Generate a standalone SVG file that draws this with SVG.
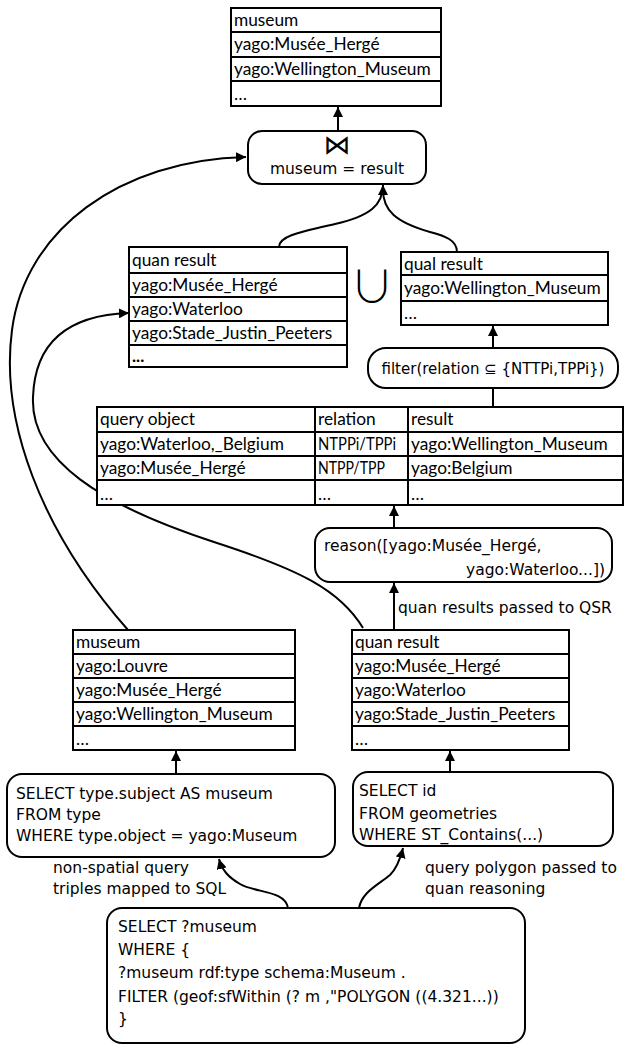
<svg xmlns="http://www.w3.org/2000/svg" width="624" height="1046" viewBox="0 0 624 1046">
  <style>
    .tbl { fill: #fff; stroke: #000; stroke-width: 2; }
    .grid { stroke: #000; stroke-width: 2; fill: none; }
    .box { fill: #fff; stroke: #000; stroke-width: 2; }
    .cell { font-family: Lato, "Liberation Sans", sans-serif; font-size: 17.3px; fill: #000; }
    .code { font-family: "DejaVu Sans", Verdana, sans-serif; font-size: 15.5px; fill: #000; }
    .edge { fill: none; stroke: #000; stroke-width: 2; }
  </style>
  <defs>
    <marker id="arrow" viewBox="0 0 10 10" refX="10" refY="5" markerWidth="5" markerHeight="5" orient="auto" markerUnits="strokeWidth">
      <path d="M0,0 L10,5 L0,10 z" fill="#000"/>
    </marker>
  </defs>
  <rect width="624" height="1046" fill="#fff"/>

  <!-- connectors -->
  <g id="connectors">
    <path class="edge" d="M338,131 L338,107" marker-end="url(#arrow)"/>
    <path class="edge" d="M279,247 C279,236 300,232 335,224 C370,216 383,205 383,185" marker-end="url(#arrow)"/>
    <path class="edge" d="M457,252 C457,240 445,236 430,232 C395,222 383,210 383,190"/>
    <path class="edge" d="M493,348 L493,326" marker-end="url(#arrow)"/>
    <path class="edge" d="M493,388 L493,407"/>
    <path class="edge" d="M394,528 L394,506" marker-end="url(#arrow)"/>
    <path class="edge" d="M394,630 L394,583" marker-end="url(#arrow)"/>
    <path class="edge" d="M128,630 C40,530 0,420 12,330 C25,230 120,160 246,157" marker-end="url(#arrow)"/>
    <path class="edge" d="M363,628 C340,590 300,570 217,543 C100,505 30,460 33,397 C35,340 70,315 129,313" marker-end="url(#arrow)"/>
    <path class="edge" d="M176,774 L176,751" marker-end="url(#arrow)"/>
    <path class="edge" d="M450,772 L450,751" marker-end="url(#arrow)"/>
    <path class="edge" d="M288,908 C285,890 255,893 240,884 C228,877 222,870 219,859" marker-end="url(#arrow)"/>
    <path class="edge" d="M359,908 C362,892 378,885 390,875 C397,868 400,860 403,848" marker-end="url(#arrow)"/>
  </g>

  <!-- final joined result -->
  <g id="result-table">
    <rect class="tbl" x="231" y="8" width="210" height="98"/>
    <path class="grid" d="M231,32 H441 M231,57 H441 M231,81 H441"/>
    <text class="cell" x="234" y="26">museum</text>
    <text class="cell" x="234" y="50">yago:Musée_Hergé</text>
    <text class="cell" x="234" y="75">yago:Wellington_Museum</text>
    <text class="cell" x="234" y="100">…</text>
  </g>

  <g id="join">
    <rect class="box" x="248" y="131" width="178" height="53" rx="14"/>
    <text class="code" x="337" y="154" text-anchor="middle" style="font-size:27px">⋈</text>
    <text class="code" x="337" y="174" text-anchor="middle">museum = result</text>
  </g>

  <g id="quan-result-upper">
    <rect class="tbl" x="129" y="247" width="218" height="120"/>
    <path class="grid" d="M129,273 H347 M129,297 H347 M129,321 H347 M129,345 H347"/>
    <text class="cell" x="132" y="266">quan result</text>
    <text class="cell" x="132" y="291">yago:Musée_Hergé</text>
    <text class="cell" x="132" y="315">yago:Waterloo</text>
    <text class="cell" x="132" y="339">yago:Stade_Justin_Peeters</text>
    <text class="cell" x="132" y="362" style="font-weight:bold">...</text>
  </g>

  <g id="union">
    <text x="372" y="303" text-anchor="middle" style="font-family:'Noto Sans CJK JP','DejaVu Sans',sans-serif;font-size:44px;font-weight:300">∪</text>
  </g>

  <g id="qual-result">
    <rect class="tbl" x="401" y="252" width="207" height="73"/>
    <path class="grid" d="M401,275 H608 M401,301 H608"/>
    <text class="cell" x="404" y="270">qual result</text>
    <text class="cell" x="404" y="294">yago:Wellington_Museum</text>
    <text class="cell" x="404" y="319">…</text>
  </g>

  <g id="filter">
    <rect class="box" x="368" y="348" width="250" height="40" rx="18"/>
    <text class="code" x="493" y="374" text-anchor="middle" style="font-size:15px">filter(relation ⊆ {NTTPi,TPPi})</text>
  </g>

  <g id="qsr-table">
    <rect class="tbl" x="97" y="407" width="526" height="98"/>
    <path class="grid" d="M97,432 H623 M97,456 H623 M97,480 H623 M315,407 V505 M408,407 V505"/>
    <text class="cell" x="100" y="425">query object</text>
    <text class="cell" x="318" y="425">relation</text>
    <text class="cell" x="411" y="425">result</text>
    <text class="cell" x="100" y="450">yago:Waterloo,_Belgium</text>
    <text class="cell" x="318" y="450" textLength="78" lengthAdjust="spacingAndGlyphs">NTPPi/TPPi</text>
    <text class="cell" x="411" y="450">yago:Wellington_Museum</text>
    <text class="cell" x="100" y="474">yago:Musée_Hergé</text>
    <text class="cell" x="318" y="474" textLength="67" lengthAdjust="spacingAndGlyphs">NTPP/TPP</text>
    <text class="cell" x="411" y="474">yago:Belgium</text>
    <text class="cell" x="100" y="500">…</text>
    <text class="cell" x="318" y="500">…</text>
    <text class="cell" x="411" y="500">…</text>
  </g>

  <g id="reason">
    <rect class="box" x="315" y="528" width="297" height="54" rx="15"/>
    <text class="code" x="324" y="551">reason([yago:Musée_Hergé,</text>
    <text class="code" x="605" y="575" text-anchor="end">yago:Waterloo...])</text>
  </g>

  <text class="code" x="398" y="613">quan results passed to QSR</text>

  <g id="museum-table">
    <rect class="tbl" x="73" y="630" width="222" height="120"/>
    <path class="grid" d="M73,654 H295 M73,678 H295 M73,702 H295 M73,726 H295"/>
    <text class="cell" x="76" y="648">museum</text>
    <text class="cell" x="76" y="672">yago:Louvre</text>
    <text class="cell" x="76" y="696">yago:Musée_Hergé</text>
    <text class="cell" x="76" y="720">yago:Wellington_Museum</text>
    <text class="cell" x="76" y="745">…</text>
  </g>

  <g id="quan-result-lower">
    <rect class="tbl" x="352" y="630" width="217" height="120"/>
    <path class="grid" d="M352,654 H569 M352,678 H569 M352,702 H569 M352,726 H569"/>
    <text class="cell" x="355" y="648">quan result</text>
    <text class="cell" x="355" y="672">yago:Musée_Hergé</text>
    <text class="cell" x="355" y="696">yago:Waterloo</text>
    <text class="cell" x="355" y="720">yago:Stade_Justin_Peeters</text>
    <text class="cell" x="355" y="745">…</text>
  </g>

  <g id="sql-type">
    <rect class="box" x="7" y="774" width="328" height="83" rx="15"/>
    <text class="code" x="16" y="799">SELECT type.subject AS museum</text>
    <text class="code" x="16" y="820">FROM type</text>
    <text class="code" x="16" y="841">WHERE type.object = yago:Museum</text>
  </g>

  <g id="sql-geometries">
    <rect class="box" x="353" y="772" width="260" height="74" rx="15"/>
    <text class="code" x="359" y="796">SELECT id</text>
    <text class="code" x="359" y="819">FROM geometries</text>
    <text class="code" x="359" y="840">WHERE ST_Contains(...)</text>
  </g>

  <text class="code" x="53" y="873">non-spatial query</text>
  <text class="code" x="53" y="894">triples mapped to SQL</text>
  <text class="code" x="425" y="873">query polygon passed to</text>
  <text class="code" x="425" y="894">quan reasoning</text>

  <g id="sparql">
    <rect class="box" x="107" y="908" width="418" height="135" rx="15"/>
    <text class="code" x="118" y="932">SELECT ?museum</text>
    <text class="code" x="118" y="955">WHERE {</text>
    <text class="code" x="118" y="978">?museum rdf:type schema:Museum .</text>
    <text class="code" x="118" y="1002">FILTER (geof:sfWithin (? m ,"POLYGON ((4.321...))</text>
    <text class="code" x="118" y="1024">}</text>
  </g>
</svg>
